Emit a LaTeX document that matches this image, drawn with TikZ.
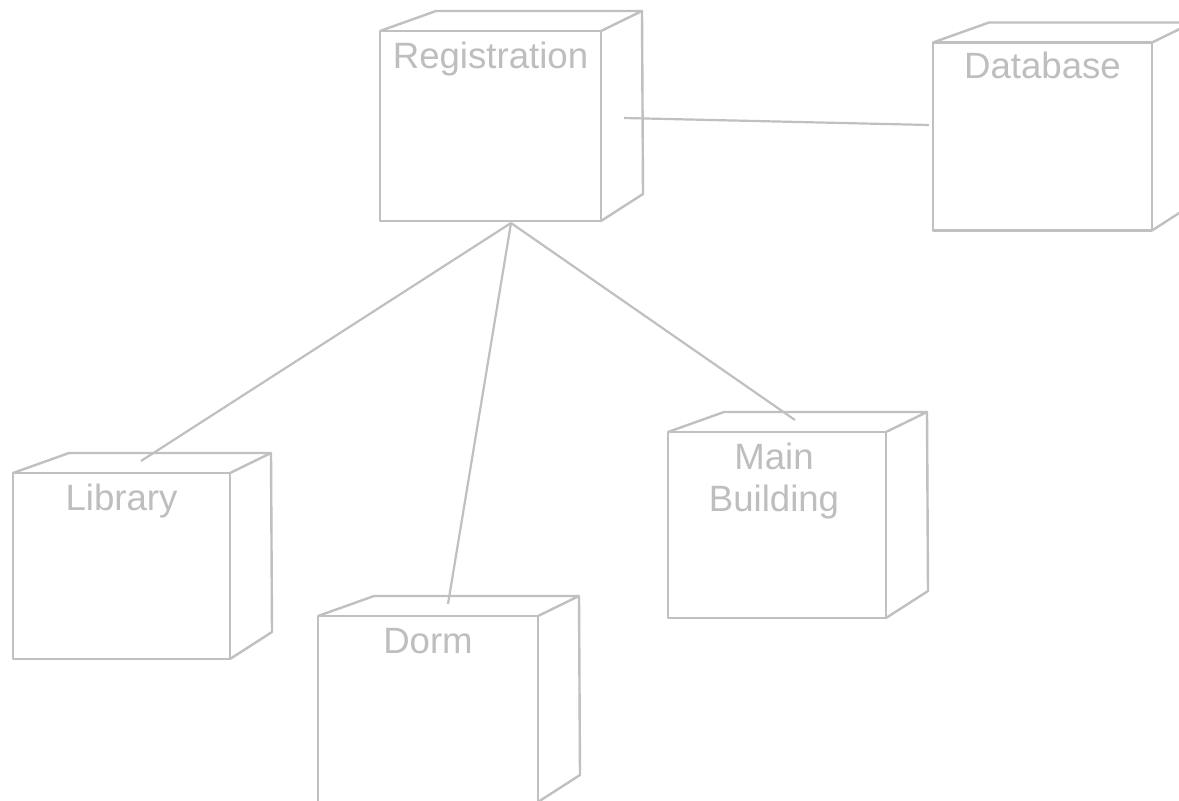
\documentclass[tikz,border=0pt]{standalone}
\usepackage{fontspec}
\setmainfont{Liberation Sans}
\definecolor{linegray}{RGB}{192,192,192}
\definecolor{textgray}{RGB}{190,190,190}
% top and right faces of a deployment node, drawn from its front face
\newcommand\deployfaces[1]{%
  \draw[ink] (#1.north west) -- ++(56,-20)
    -- ([shift={(41,-20)}]#1.north east) -- (#1.north east);
  \draw[ink] ([shift={(41,-20)}]#1.north east)
    -- ([shift={(42,-27)}]#1.south east) -- (#1.south east);}
\begin{document}
\begin{tikzpicture}[x=1pt,y=-1pt,
  ink/.style={draw=linegray, line width=2.4pt, line join=round},
  link/.style={draw=linegray, line width=2.2pt},
  front/.style={ink, rectangle, inner sep=0pt, outer sep=0pt,
    minimum width=219pt, minimum height=188pt},
  lbl/.style={text=textgray, font=\fontsize{36.6}{42}\selectfont,
    inner sep=0pt, anchor=base, align=center}]
\fill[white] (0,0) rectangle (1179,801);
\clip (0,0) rectangle (1179,801);

% front faces
\node[front, minimum width=221pt, minimum height=190pt] (reg) at (490.5,126) {};
\node[front] (db)   at (1042.5,136.5) {};
\node[front, minimum width=217pt, minimum height=186pt] (lib) at (121.5,566) {};
\node[front, minimum width=220pt, minimum height=186pt] (dorm) at (428,709) {};
\node[front, minimum width=218pt, minimum height=186pt] (main) at (777,525) {};

\foreach \n in {reg,db,lib,dorm,main} {\deployfaces{\n}}

% names
\node[lbl] (regT)  at ([yshift=-37pt]reg.north)  {Registration};
\node[lbl] (dbT)   at ([yshift=-36pt]db.north)   {Database};
\node[lbl] (libT)  at ([yshift=-37pt]lib.north)  {Library};
\node[lbl] (dormT) at ([yshift=-37pt]dorm.north) {Dorm};
\node[lbl] (mainT) at ([shift={(-3,79)}]main.north) {Main\\Building};

% connector ends
\coordinate (hub)   at ([shift={(20.5,2)}]reg.south);
\coordinate (regR)  at ([shift={(23,-8)}]reg.east);
\coordinate (dbL)   at ([shift={(-4,-11.5)}]db.west);
\coordinate (libE)  at ([shift={(19.5,-12)}]lib.north);
\coordinate (dormE) at ([shift={(20,-12)}]dorm.north);
\coordinate (mainE) at ([shift={(18,-12)}]main.north);

\draw[link] (regR) -- (dbL);
\draw[link] (hub) -- (libE);
\draw[link] (hub) -- (dormE);
\draw[link] (hub) -- (mainE);
\end{tikzpicture}
\end{document}
